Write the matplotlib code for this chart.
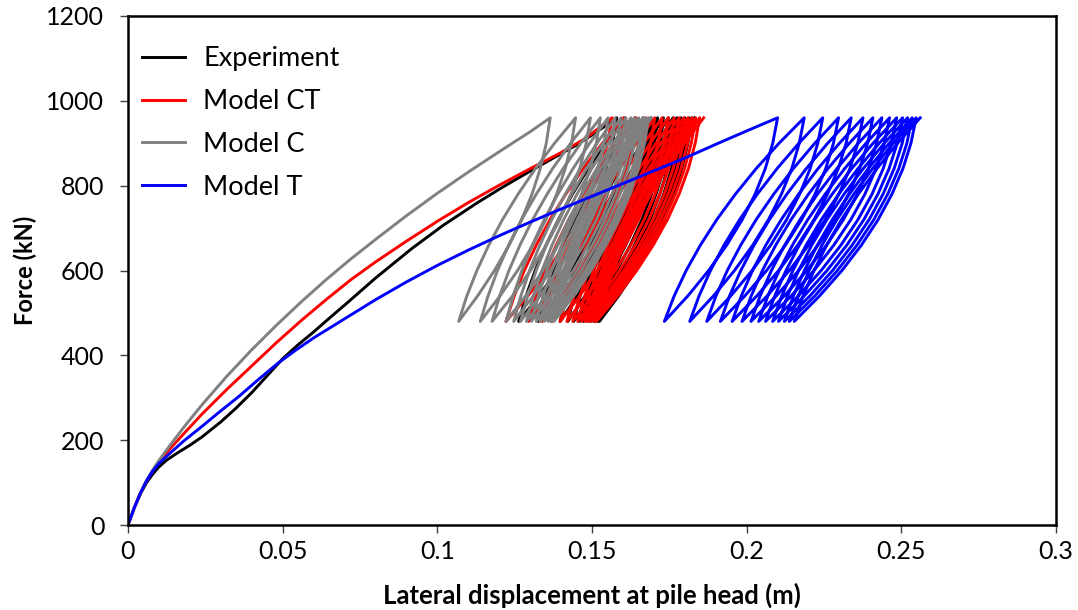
import matplotlib
matplotlib.use("Agg")
import matplotlib.pyplot as plt
import numpy as np

plt.rcParams['font.family'] = ['Lato', 'DejaVu Sans']

# cyclic load limits (kN)
F_min = 480
F_max = 960

# monotonic branch up to the first peak: displacement (m) / force (kN)
exp_x = [0, 0.002, 0.004, 0.006, 0.008, 0.010, 0.0125, 0.016, 0.020, 0.024, 0.030, 0.035, 0.040, 0.045,
         0.050, 0.055, 0.060, 0.065, 0.0706, 0.080, 0.0918, 0.102, 0.113, 0.121, 0.129, 0.137, 0.145, 0.151, 0.158]
exp_F = [0, 40, 73, 100, 120, 137, 153, 170, 188, 208, 243, 276, 312, 352,
         392, 425, 455, 487, 522, 582, 652, 707, 760, 796, 830, 863, 896, 924, 960]
ct_x = [0, 0.002, 0.004, 0.006, 0.008, 0.010, 0.013, 0.018, 0.024, 0.032, 0.040, 0.048, 0.056, 0.064,
        0.072, 0.080, 0.090, 0.100, 0.110, 0.120, 0.130, 0.140, 0.148, 0.1565]
ct_F = [0, 40, 75, 104, 128, 148, 175, 215, 262, 320, 375, 430, 482, 531,
        578, 620, 669, 716, 760, 801, 840, 878, 912, 960]
c_x = [0, 0.002, 0.004, 0.006, 0.008, 0.010, 0.0134, 0.018, 0.024, 0.032, 0.040, 0.048, 0.056, 0.064,
       0.072, 0.080, 0.090, 0.100, 0.110, 0.120, 0.130, 0.1365]
c_F = [0, 40, 75, 105, 130, 152, 186, 230, 284, 351, 413, 471, 526, 578,
       627, 673, 729, 782, 832, 880, 927, 960]
t_x = [0, 0.002, 0.004, 0.006, 0.008, 0.010, 0.0134, 0.018, 0.024, 0.0293, 0.036, 0.042, 0.0484, 0.054,
       0.060, 0.070, 0.080, 0.090, 0.100, 0.110, 0.120, 0.130, 0.140, 0.150, 0.160, 0.170, 0.180,
       0.1905, 0.200, 0.210]
t_F = [0, 40, 75, 104, 127, 145, 168, 198, 233, 265, 304, 342, 381, 411,
       441, 486, 531, 573, 612, 648, 682, 714, 745, 775, 805, 835, 865,
       899, 929, 960]

# displacement at each load peak (F_max) and each unload trough (F_min)
exp_peaks = [0.1580, 0.1605, 0.1638, 0.1666, 0.1690, 0.1712, 0.1731, 0.1747, 0.1762, 0.1775, 0.1788, 0.1800, 0.1813, 0.1823, 0.1832]
exp_troughs = [0.1263, 0.1327, 0.1368, 0.1397, 0.1422, 0.1441, 0.1460, 0.1473, 0.1486, 0.1495, 0.1505, 0.1511, 0.1518, 0.1524]
ct_peaks = [0.1565, 0.1602, 0.1642, 0.1675, 0.1703, 0.1727, 0.1747, 0.1766, 0.1782, 0.1797, 0.1810, 0.1823, 0.1835, 0.1848, 0.1861]
ct_troughs = [0.1222, 0.1295, 0.1339, 0.1371, 0.1397, 0.1419, 0.1438, 0.1454, 0.1467, 0.1479, 0.1489, 0.1498, 0.1508, 0.1514]
c_peaks = [0.1365, 0.1447, 0.1495, 0.1527, 0.1552, 0.1575, 0.1594, 0.1610, 0.1626, 0.1638, 0.1651, 0.1664, 0.1673, 0.1683, 0.1692]
c_troughs = [0.1069, 0.1139, 0.1177, 0.1222, 0.1247, 0.1269, 0.1288, 0.1304, 0.1320, 0.1333, 0.1346, 0.1358, 0.1368, 0.1377]
t_peaks = [0.2100, 0.2186, 0.2246, 0.2297, 0.2338, 0.2376, 0.2408, 0.2437, 0.2462, 0.2485, 0.2504, 0.2520, 0.2535, 0.2548, 0.2561]
t_troughs = [0.1734, 0.1816, 0.1871, 0.1915, 0.1953, 0.1985, 0.2014, 0.2039, 0.2061, 0.2084, 0.2103, 0.2122, 0.2138, 0.2154]

# shape of the unload / reload branches (fraction of the travel between reversal points)
force_frac = [0, 0.125, 0.25, 0.375, 0.5, 0.625, 0.75, 0.875, 1]
unload_frac = [0, 0.043, 0.109, 0.199, 0.312, 0.449, 0.609, 0.793, 1]
reload_frac = [0, 0.070, 0.156, 0.258, 0.375, 0.508, 0.656, 0.820, 1]


def curva(bx, bF, peaks, troughs):
    # monotonic part, then the load cycles one after the other
    xs = list(bx)
    Fs = list(bF)
    ff = np.array(force_frac)
    for i in range(len(troughs)):
        # unloading from peak i to trough i
        xs += list(peaks[i] - np.array(unload_frac) * (peaks[i] - troughs[i]))
        Fs += list(F_max - ff * (F_max - F_min))
        # reloading from trough i to peak i+1
        xs += list(troughs[i] + np.array(reload_frac) * (peaks[i + 1] - troughs[i]))
        Fs += list(F_min + ff * (F_max - F_min))
    return xs, Fs


fig = plt.figure(figsize=(10.78, 6.10), dpi=100)
ax = fig.add_axes([0.1187, 0.1393, 0.8609, 0.8345])

x, F = curva(exp_x, exp_F, exp_peaks, exp_troughs)
ax.plot(x, F, color='black', lw=2.1, label='Experiment')
x, F = curva(ct_x, ct_F, ct_peaks, ct_troughs)
ax.plot(x, F, color='#FF0000', lw=2.1, label='Model CT')
x, F = curva(c_x, c_F, c_peaks, c_troughs)
ax.plot(x, F, color='#808080', lw=2.1, label='Model C')
x, F = curva(t_x, t_F, t_peaks, t_troughs)
ax.plot(x, F, color='#0000FF', lw=2.1, label='Model T')

ax.set_xlim(0, 0.3)
ax.set_ylim(0, 1200)
ax.set_xticks([0, 0.05, 0.1, 0.15, 0.2, 0.25, 0.3])
ax.set_xticklabels(['0', '0.05', '0.1', '0.15', '0.2', '0.25', '0.3'])
ax.set_yticks(range(0, 1201, 200))
ax.tick_params(direction='out', length=6, width=1, colors='#404040', labelcolor='black', labelsize=18)
ax.tick_params(axis='y', pad=11)
ax.tick_params(axis='x', pad=5)

for s in ax.spines.values():
    s.set_linewidth(1.8)
    s.set_color('black')

ax.set_xlabel('Lateral displacement at pile head (m)', fontsize=18.5, fontweight='bold', labelpad=14)
ax.set_ylabel('Force (kN)', fontsize=17, fontweight='bold', labelpad=7)

ax.legend(loc='upper left', bbox_to_anchor=(0.003, 0.962), borderaxespad=0, frameon=False,
          fontsize=19.5, handlelength=1.6, labelspacing=0.66, handletextpad=0.67)

fig.savefig('out.png', dpi=100)
